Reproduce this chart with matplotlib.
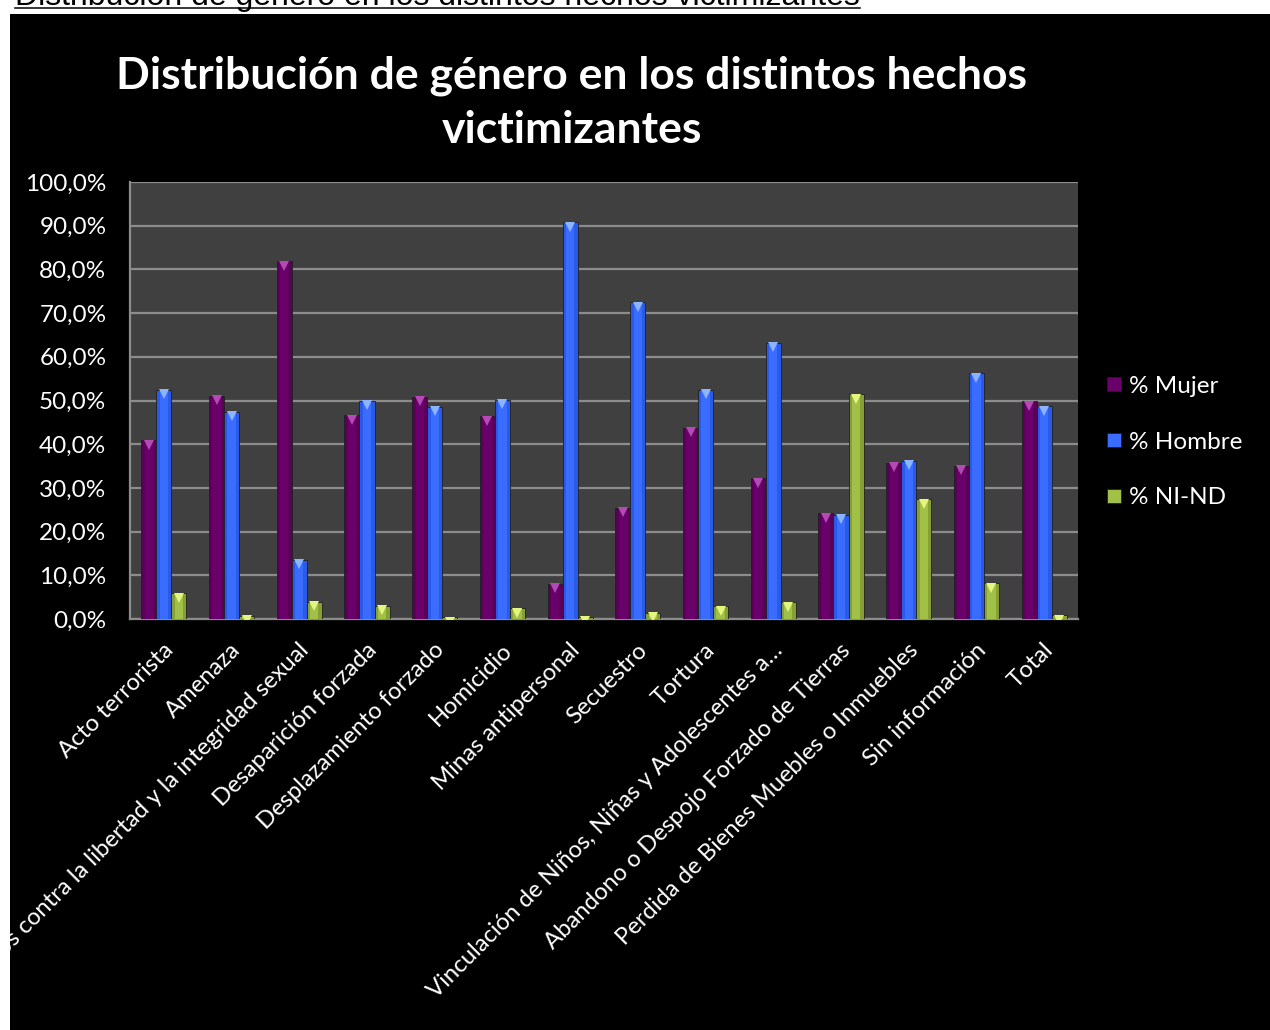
import matplotlib
matplotlib.use("Agg")
import matplotlib.pyplot as plt
import numpy as np
from matplotlib.patches import Rectangle
from matplotlib.lines import Line2D
from matplotlib.ticker import FuncFormatter, MultipleLocator
from matplotlib.transforms import ScaledTranslation

categories = [
    "Acto terrorista", "Amenaza",
    "Delitos contra la libertad y la integridad sexual",
    "Desaparición forzada", "Desplazamiento forzado", "Homicidio",
    "Minas antipersonal", "Secuestro", "Tortura",
    "Vinculación de Niños, Niñas y Adolescentes a…",
    "Abandono o Despojo Forzado de Tierras",
    "Perdida de Bienes Muebles o Inmuebles", "Sin información", "Total",
]
mujer = [40.9, 51.1, 81.9, 46.6, 50.8, 46.4, 8.1, 25.5, 43.7, 32.2, 24.2, 35.8, 35.0, 49.8]
hombre = [52.4, 47.4, 13.6, 50.0, 48.5, 50.2, 90.8, 72.5, 52.5, 63.2, 23.8, 36.2, 56.2, 48.7]
ni_nd = [5.9, 0.8, 4.0, 3.0, 0.4, 2.5, 0.5, 1.4, 2.9, 3.8, 51.4, 27.4, 8.2, 0.9]
series_names = ["% Mujer", "% Hombre", "% NI-ND"]

W, H = 1270, 1030
fig = plt.figure(figsize=(W / 100, H / 100), dpi=100, facecolor="white")

# black chart area
fig.patches.append(Rectangle((10 / W, 0), (W - 10) / W, (H - 14) / H,
                             transform=fig.transFigure, facecolor="black",
                             edgecolor="none", zorder=-10))

# cut-off heading in the white strip
head = fig.text(15 / W, 1 - 5.0 / H,
                "Distribución de género en los distintos hechos victimizantes",
                family="Liberation Sans", fontsize=20, color="black",
                ha="left", va="baseline")
fig.canvas.draw()
r = fig.canvas.get_renderer()
bb = head.get_window_extent(r)
head.set_fontsize(20 * (842 / bb.width))
fig.canvas.draw()
bb = head.get_window_extent(r)
fig.add_artist(Line2D([bb.x0 / W, bb.x1 / W], [1 - 7.6 / H, 1 - 7.6 / H],
                      transform=fig.transFigure, color="black", lw=1.1))

# title
t1 = fig.text(572 / W, 1 - 76 / H, "Distribución de género en los distintos hechos",
              family="Lato", weight="bold", fontsize=26, color="white",
              ha="center", va="center")
fig.canvas.draw()
bb = t1.get_window_extent(r)
fs = 26 * (911 / bb.width)
t1.set_fontsize(fs)
fig.text(572 / W, 1 - 130 / H, "victimizantes", family="Lato", weight="bold",
         fontsize=fs, color="white", ha="center", va="center")

# axes
ax = fig.add_axes([130 / W, 1 - 619 / H, 948 / W, (619 - 182) / H])
ax.set_facecolor("#404040")
x = np.arange(len(categories))
bw = 0.222
base_cols = ["#5a0058", "#2a5ae8", "#86a035"]
mid_cols = ["#6a006a", "#3a6cff", "#a0c048"]
tri_cols = ["#b44ab4", "#8cb4ff", "#e4f680"]
data = [mujer, hombre, ni_nd]
tri_trans = ax.transData + ScaledTranslation(0, -3.2 / 72, fig.dpi_scale_trans)
for i, vals in enumerate(data):
    xs = x + (i - 1) * bw
    ax.bar(xs, vals, width=bw, color=base_cols[i], edgecolor="#202020",
           linewidth=0.6, zorder=3)
    ax.bar(xs, vals, width=bw * 0.55, color=mid_cols[i], linewidth=0, zorder=3.5)
    ax.plot(xs, vals, linestyle="none", marker="v", markersize=6.5,
            color=tri_cols[i], markeredgewidth=0, zorder=4, transform=tri_trans)

ax.set_xlim(-0.5, len(categories) - 0.5)
ax.set_ylim(0, 100)
ax.yaxis.set_major_locator(MultipleLocator(10))
ax.yaxis.set_major_formatter(FuncFormatter(lambda v, p: f"{v:.1f}%".replace(".", ",")))
ax.grid(axis="y", color="#8c8c8c", linewidth=1.6, zorder=1)
ax.set_axisbelow(True)
for s in ["top", "right"]:
    ax.spines[s].set_visible(False)
for s in ["left", "bottom"]:
    ax.spines[s].set_color("#8c8c8c")
    ax.spines[s].set_linewidth(1.6)
ax.tick_params(axis="y", length=0, pad=17, labelsize=17.5, labelcolor="white")
ax.tick_params(axis="x", length=0, pad=20, labelsize=17.2, labelcolor="white")
for lab in ax.get_yticklabels():
    lab.set_family("Lato")
ax.set_xticks(x)
ax.set_xticklabels(categories, rotation=45, ha="right", va="center",
                   rotation_mode="anchor", family="Lato")
shift = ScaledTranslation(0.06, 0, fig.dpi_scale_trans)
for lab in ax.get_xticklabels():
    lab.set_transform(lab.get_transform() + shift)

# legend
handles = [Line2D([], [], linestyle="none", marker="s", markersize=10,
                  markerfacecolor=mid_cols[i], markeredgecolor="#202020",
                  markeredgewidth=0.6) for i in range(3)]
leg = fig.legend(handles, series_names, loc="center left",
                 bbox_to_anchor=(1085 / W, 1 - 442 / H), frameon=False,
                 labelspacing=1.42, handlelength=0.6, handletextpad=0.3,
                 prop={"family": "Lato", "size": 17.5})
for t in leg.get_texts():
    t.set_color("white")

fig.savefig("out.png", dpi=100, facecolor="white")
